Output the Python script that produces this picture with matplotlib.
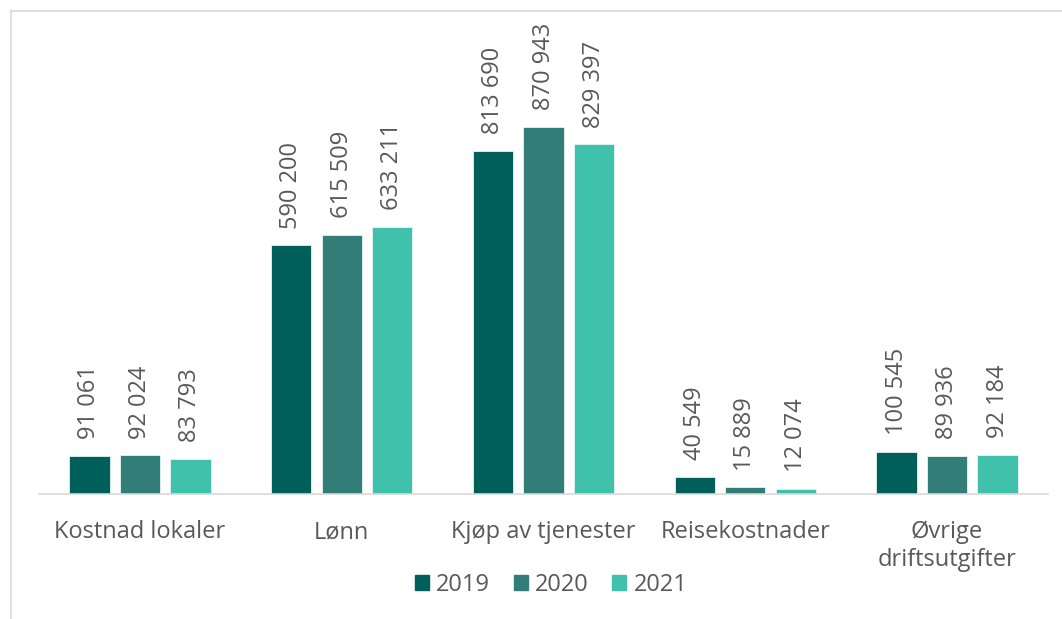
import matplotlib.pyplot as plt
import numpy as np
from matplotlib.patches import Rectangle
from matplotlib.lines import Line2D

categories = ['Kostnad lokaler', 'Lønn', 'Kjøp av tjenester', 'Reisekostnader', 'Øvrige\ndriftsutgifter']
years = ['2019', '2020', '2021']
v2019 = [91061, 590200, 813690, 40549, 100545]
v2020 = [92024, 615509, 870943, 15889, 89936]
v2021 = [83793, 633211, 829397, 12074, 92184]
colors = ['#005f5a', '#337d79', '#40c1ac']

plt.rcParams['font.family'] = ['Open Sans', 'DejaVu Sans']
txt = '#595959'
fs = 17

fig = plt.figure(figsize=(10.62, 6.19), dpi=100)
W, H = 1062, 619
ax = fig.add_axes([39 / W, 1 - 494 / H, (1048 - 39) / W, (494 - 11) / H])

x = np.arange(len(categories))
for i, (vals, c) in enumerate(zip([v2019, v2020, v2021], colors)):
    bars = ax.bar(x + (i - 1) * 0.25, vals, width=0.2, color=c, edgecolor='#e8f4f2', linewidth=0.6, label=years[i])
    for b, v in zip(bars, vals):
        ax.annotate('{:,}'.format(v).replace(',', ' '), (b.get_x() + b.get_width() / 2, v),
                    xytext=(0, 12), textcoords='offset points',
                    rotation=90, ha='center', va='bottom', fontsize=fs, color=txt)

ax.set_xlim(-0.5, len(categories) - 0.5)
ax.set_ylim(0, 1146000)
ax.set_yticks([])
ax.set_xticks(x)
ax.set_xticklabels(categories, fontsize=fs, color=txt, linespacing=1.2)
ax.tick_params(axis='x', length=0, pad=19)
for s in ['top', 'right', 'left']:
    ax.spines[s].set_visible(False)
ax.spines['bottom'].set_color('#d9d9d9')
ax.spines['bottom'].set_linewidth(1.2)

handles = [Rectangle((0, 0), 1, 1, color=c) for c in colors]
fig.legend(handles, years, loc='center', bbox_to_anchor=(551 / W, 1 - 585 / H), ncol=3, frameon=False,
           fontsize=fs, labelcolor=txt, handlelength=0.6, handleheight=0.6, handletextpad=0.3, columnspacing=1.0)

# chart border (left and top)
fig.add_artist(Line2D([10.5 / W, 10.5 / W], [0, 1 - 11 / H], color='#d9d9d9', lw=1.2, transform=fig.transFigure))
fig.add_artist(Line2D([10.5 / W, 1], [1 - 11 / H, 1 - 11 / H], color='#d9d9d9', lw=1.2, transform=fig.transFigure))

fig.savefig('out.png', dpi=100)
